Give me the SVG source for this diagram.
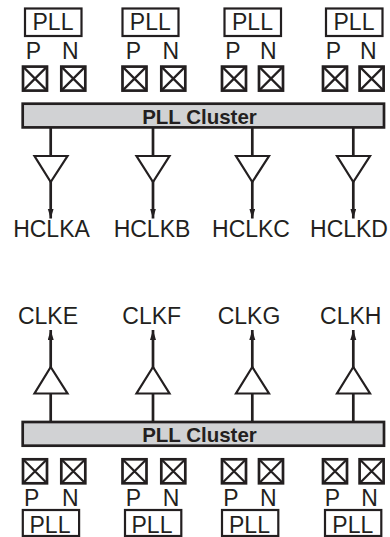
<svg xmlns="http://www.w3.org/2000/svg" width="390" height="537" viewBox="0 0 390 537">
<style>
text{font-family:"Liberation Sans",Arial,sans-serif;fill:#231f20}
.l{font-size:23px;text-anchor:middle}
.b{font-size:20.5px;font-weight:bold;text-anchor:middle}
.box,.tri,.w{stroke:#231f20;stroke-width:2.2px}
.pad,.bar,.c{stroke:#231f20;stroke-width:2.7px}
.box,.pad,.tri{fill:#fff}
.bar{fill:#d1d2d4}
.w,.c{fill:none}
</style>
<defs>
<marker id="a" markerUnits="userSpaceOnUse" markerWidth="10" markerHeight="8" refX="9.9" refY="3" orient="auto"><path d="M0,0L10,3L0,6z" fill="#231f20"/></marker>
<g id="pad"><rect class="pad" width="24" height="24"/><path class="w" d="M0,0L24,24M24,0L0,24"/></g>
</defs>
<g id="connectors">
<path class="c" marker-end="url(#a)" d="M50.7,127V218.5"/>
<path class="c" marker-end="url(#a)" d="M153,127V218.5"/>
<path class="c" marker-end="url(#a)" d="M252.3,127V218.5"/>
<path class="c" marker-end="url(#a)" d="M353.3,127V218.5"/>
<path class="c" marker-end="url(#a)" d="M50.7,422V330"/>
<path class="c" marker-end="url(#a)" d="M153,422V330"/>
<path class="c" marker-end="url(#a)" d="M252.3,422V330"/>
<path class="c" marker-end="url(#a)" d="M353.3,422V330"/>
</g>
<g id="cluster-top"><rect class="bar" x="22.7" y="103.7" width="361.300" height="23.700"/><text class="b" x="199.500" y="123.500">PLL Cluster</text></g>
<g id="cluster-bottom"><rect class="bar" x="22.7" y="422" width="361.300" height="23.700"/><text class="b" x="199.500" y="441.500">PLL Cluster</text></g>
<g id="buf-a"><path class="tri" d="M34.5,156H67.500L50.7,182z"/><text class="l" x="51.500" y="237">HCLKA</text></g>
<g id="buf-b"><path class="tri" d="M136.5,156H169.500L153,182z"/><text class="l" x="152" y="237">HCLKB</text></g>
<g id="buf-c"><path class="tri" d="M236,156H269L252.3,182z"/><text class="l" x="251" y="237">HCLKC</text></g>
<g id="buf-d"><path class="tri" d="M337,156H370L353.3,182z"/><text class="l" x="349" y="237">HCLKD</text></g>
<g id="buf-e"><path class="tri" d="M34.5,393.5H67.500L50.7,367z"/><text class="l" x="48" y="323.500">CLKE</text></g>
<g id="buf-f"><path class="tri" d="M136.5,393.5H169.500L153,367z"/><text class="l" x="151.700" y="323.500">CLKF</text></g>
<g id="buf-g"><path class="tri" d="M236,393.5H269L252.3,367z"/><text class="l" x="249" y="323.500">CLKG</text></g>
<g id="buf-h"><path class="tri" d="M337,393.5H370L353.3,367z"/><text class="l" x="350.800" y="323.500">CLKH</text></g>
<g id="pll-t1"><rect class="box" x="25" y="8.500" width="56.500" height="27.500"/><text class="l" x="53" y="29.500">PLL</text></g>
<g id="pll-t2"><rect class="box" x="122.500" y="8.500" width="56" height="27.500"/><text class="l" x="150.300" y="29.500">PLL</text></g>
<g id="pll-t3"><rect class="box" x="224.500" y="8.500" width="56.500" height="27.500"/><text class="l" x="252.500" y="29.500">PLL</text></g>
<g id="pll-t4"><rect class="box" x="326" y="8.500" width="56.500" height="27.500"/><text class="l" x="354" y="29.500">PLL</text></g>
<g id="pads-t1"><use href="#pad" x="23" y="66.600"/><use href="#pad" x="61.300" y="66.600"/><text class="l" x="33.300" y="59">P</text><text class="l" x="70.300" y="59">N</text></g>
<g id="pads-t2"><use href="#pad" x="122.500" y="66.600"/><use href="#pad" x="161.300" y="66.600"/><text class="l" x="133.300" y="59">P</text><text class="l" x="170.800" y="59">N</text></g>
<g id="pads-t3"><use href="#pad" x="222" y="66.600"/><use href="#pad" x="259" y="66.600"/><text class="l" x="233" y="59">P</text><text class="l" x="268.300" y="59">N</text></g>
<g id="pads-t4"><use href="#pad" x="323" y="66.600"/><use href="#pad" x="359.600" y="66.600"/><text class="l" x="333.300" y="59">P</text><text class="l" x="368.300" y="59">N</text></g>
<g id="pads-b1"><use href="#pad" x="23" y="459.300"/><use href="#pad" x="61.300" y="459.300"/><text class="l" x="31.700" y="505.500">P</text><text class="l" x="70.300" y="505.500">N</text></g>
<g id="pads-b2"><use href="#pad" x="122.500" y="459.300"/><use href="#pad" x="161.300" y="459.300"/><text class="l" x="133.300" y="505.500">P</text><text class="l" x="171" y="505.500">N</text></g>
<g id="pads-b3"><use href="#pad" x="222" y="459.300"/><use href="#pad" x="259" y="459.300"/><text class="l" x="231" y="505.500">P</text><text class="l" x="268.300" y="505.500">N</text></g>
<g id="pads-b4"><use href="#pad" x="323" y="459.300"/><use href="#pad" x="359.600" y="459.300"/><text class="l" x="332.300" y="505.500">P</text><text class="l" x="369.500" y="505.500">N</text></g>
<g id="pll-b1"><rect class="box" x="22.800" y="510" width="56.300" height="26"/><text class="l" x="50" y="532.700">PLL</text></g>
<g id="pll-b2"><rect class="box" x="125" y="510" width="56.300" height="26"/><text class="l" x="152" y="532.700">PLL</text></g>
<g id="pll-b3"><rect class="box" x="222" y="510" width="56.300" height="26"/><text class="l" x="249.500" y="532.700">PLL</text></g>
<g id="pll-b4"><rect class="box" x="325" y="510" width="56.300" height="26"/><text class="l" x="352.800" y="532.700">PLL</text></g>
</svg>
